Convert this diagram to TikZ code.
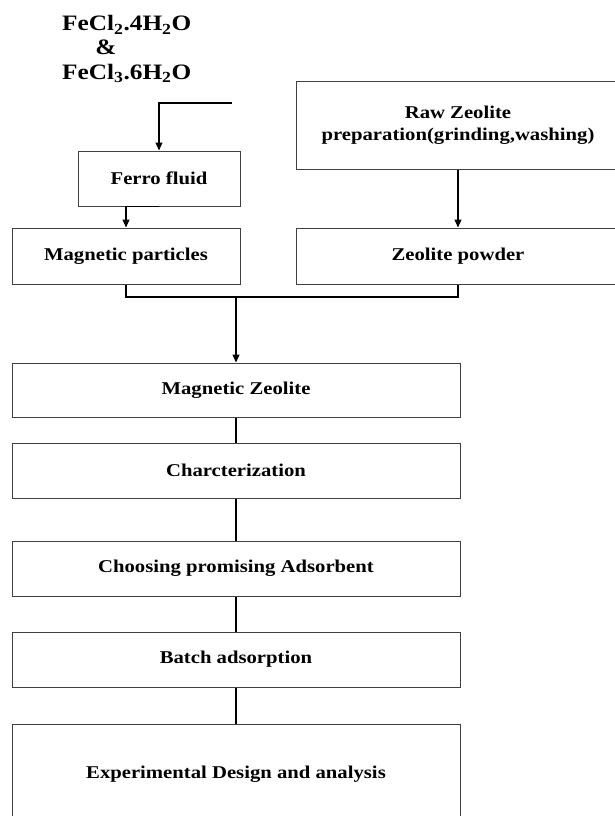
\documentclass[tikz,border=0pt]{standalone}
\usepackage{fontspec}
\setmainfont{Liberation Serif}[FakeStretch=1.15]
\usetikzlibrary{arrows.meta}
\tikzset{
  box/.style={draw=black!75, line width=1pt, inner sep=0pt, align=center,
    font=\fontsize{18}{22}\selectfont\bfseries},
  conn/.style={draw=black, line width=1.2pt},
  arr/.style={conn, -{Triangle[width=7pt,length=8pt]}},
  formula/.style={inner sep=0pt, font=\fontsize{22}{26}\selectfont\bfseries}
}
\begin{document}
\begin{tikzpicture}[x=1pt,y=-1pt]
\useasboundingbox (0,0) rectangle (615,816);
\begin{scope}
\clip (0,0) rectangle (615,816);
% formula texts
\node[formula, anchor=base west] (f1) at (62,31) {FeCl\textsubscript{2}.4H\textsubscript{2}O};
\node[formula, anchor=base] (amp) at (106,55) {\&};
\node[formula, anchor=base west] (f2) at (62,79) {FeCl\textsubscript{3}.6H\textsubscript{2}O};
\coordinate (src) at (232,103);
% boxes
\node[box, minimum width=162pt, minimum height=55pt] (ff) at (159,178.5) {Ferro fluid};
\node[box, minimum width=228pt, minimum height=56pt] (mp) at (126,256) {Magnetic particles};
\node[box, minimum width=324pt, minimum height=88pt] (rz) at (458,125) {Raw Zeolite\\preparation(grinding,washing)};
\node[box, minimum width=324pt, minimum height=56pt] (zp) at (458,256) {Zeolite powder};
\node[box, minimum width=448pt, minimum height=54pt] (mz) at (236,390) {Magnetic Zeolite};
\node[box, minimum width=448pt, minimum height=55pt] (ch) at (236,470.5) {Charcterization};
\node[box, minimum width=448pt, minimum height=55pt] (cp) at (236,568.5) {Choosing promising Adsorbent};
\node[box, minimum width=448pt, minimum height=55pt] (ba) at (236,659.5) {Batch adsorption};
\node[box, minimum width=448pt, minimum height=100pt] (ex) at (236,774) {Experimental Design and analysis};
% connectors
\draw[arr] (src) -| (ff.north);
\draw[arr] (ff.south) -| (mp.north);
\draw[arr] (rz.south) -- (zp.north);
\coordinate (join) at (236,297);
\draw[conn] (mp.south) |- (join) -| (zp.south);
\draw[arr] (join) -- (mz.north);
\draw[conn] (mz.south) -- (ch.north);
\draw[conn] (ch.south) -- (cp.north);
\draw[conn] (cp.south) -- (ba.north);
\draw[conn] (ba.south) -- (ex.north);
\end{scope}
\end{tikzpicture}
\end{document}
